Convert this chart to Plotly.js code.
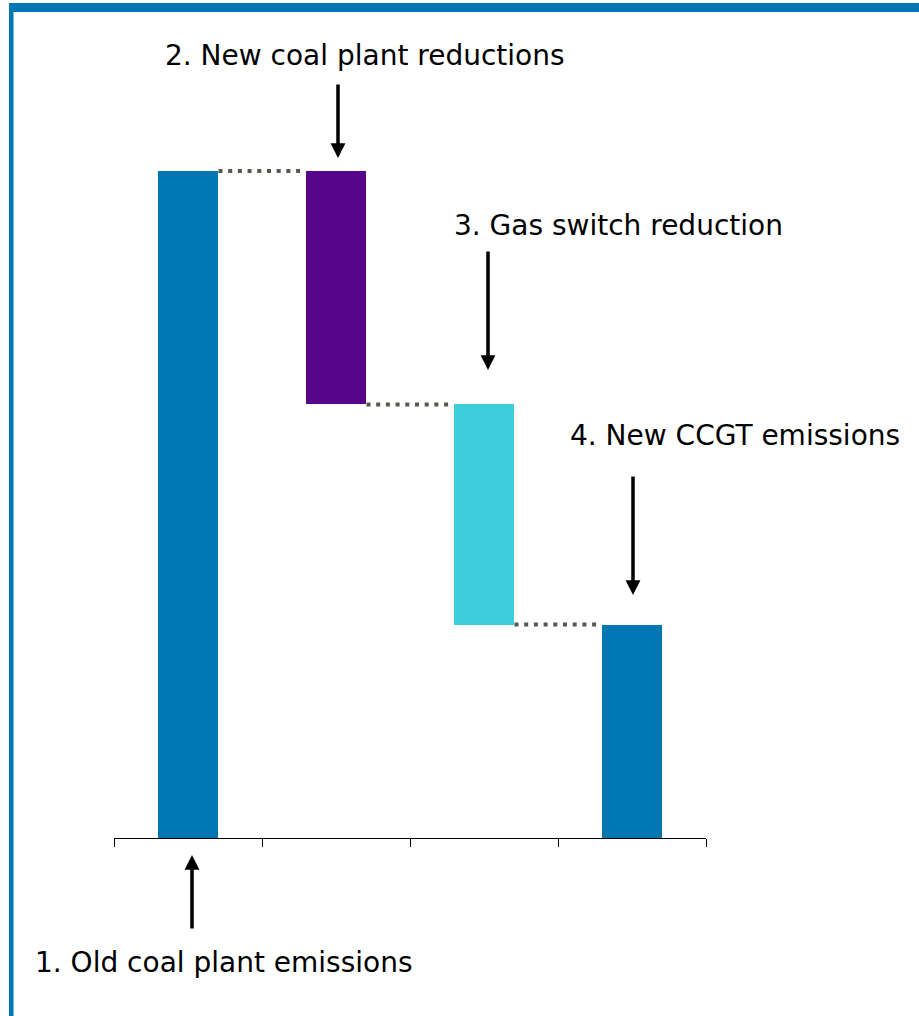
<!DOCTYPE html>
<html>
<head>
<meta charset="utf-8">
<script src="https://cdn.plot.ly/plotly-3.0.1.min.js"></script>
<style>
  html, body { margin: 0; padding: 0; background: #ffffff; }
  #chart { width: 919px; height: 1016px; }
</style>
</head>
<body>
<div id="chart"></div>
<script>
// ---- Data ----
const categories = ["Old coal plant", "New coal plant", "Gas switch", "New CCGT"];
const labels = [
  "1. Old coal plant emissions",
  "2. New coal plant reductions",
  "3. Gas switch reduction",
  "4. New CCGT emissions"
];
// step sizes (first and last are totals, middle are reductions)
const values = [100, 35, 33, 32];
const kinds = ["total", "reduction", "reduction", "total"];
const barColors = ["#0076B2", "#57068A", "#3CCEDB", "#0076B2"];

// ---- derived bar bases / levels ----
const bases = [];
const levels = []; // running level after each bar
let running = 0;
values.forEach((v, i) => {
  if (kinds[i] === "total") { bases.push(0); running = v; }
  else { running -= v; bases.push(running); }
  levels.push(running);
});

// ---- geometry helpers (layout only) ----
const W = 919, H = 1016;
const M = { l: 114, r: 213, t: 104, b: 178 };
const plotW = W - M.l - M.r, plotH = H - M.t - M.b;
const pxX = px => (px - M.l) / plotW;
const pxY = py => (H - M.b - py) / plotH;
const barWidth = 0.412;
const yMax = 110.04;

const trace = {
  type: "bar",
  x: categories,
  y: values,
  base: bases,
  width: barWidth,
  marker: { color: barColors, line: { width: 0 } },
  hoverinfo: "skip",
  showlegend: false
};

const shapes = [];
// dotted connectors between consecutive bars
for (let i = 0; i < categories.length - 1; i++) {
  shapes.push({
    type: "line", xref: "x", yref: "y",
    x0: i + barWidth / 2, x1: i + 1 - barWidth / 2,
    y0: levels[i], y1: levels[i],
    line: { color: "#5A5650", width: 4, dash: "4px,5.7px" }
  });
}
// frame (top band + left band)
shapes.push({ type: "rect", xref: "paper", yref: "paper", x0: pxX(9), x1: pxX(W + 5), y0: pxY(12), y1: pxY(3), fillcolor: "#0077B3", line: { width: 0 }, layer: "above" });
shapes.push({ type: "rect", xref: "paper", yref: "paper", x0: pxX(9), x1: pxX(13.5), y0: pxY(H + 5), y1: pxY(3), fillcolor: "#0077B3", line: { width: 0 }, layer: "above" });

const font = { family: "DejaVu Sans, Liberation Sans, Arial, sans-serif", size: 28, color: "#000000" };

// label text positions (px centers) and arrows (tip px, tail px)
const textPos = [[224, 963], [365, 55], [618, 225], [735, 435]];
const arrows = [
  { x: 192, tip: 855, tail: 930 },
  { x: 338, tip: 158, tail: 83 },
  { x: 488, tip: 370, tail: 250 },
  { x: 633, tip: 595, tail: 475 }
];

const annotations = [];
labels.forEach((t, i) => {
  annotations.push({
    text: t, xref: "paper", yref: "paper",
    x: pxX(textPos[i][0]), y: pxY(textPos[i][1]),
    xanchor: "center", yanchor: "middle",
    showarrow: false, font: font
  });
  const a = arrows[i];
  annotations.push({
    text: "", xref: "paper", yref: "paper",
    x: pxX(a.x), y: pxY(a.tip),
    ax: 0, ay: a.tail - a.tip,
    showarrow: true, arrowhead: 2, arrowsize: 0.85, arrowwidth: 3.5,
    arrowcolor: "#000000", standoff: 0
  });
});

const layout = {
  width: W, height: H,
  margin: M,
  paper_bgcolor: "#ffffff", plot_bgcolor: "#ffffff",
  showlegend: false,
  bargap: 0,
  xaxis: {
    type: "category",
    range: [-0.5, categories.length - 0.5],
    showline: true, linecolor: "#000000", linewidth: 1,
    ticks: "outside", tickson: "boundaries", ticklen: 8, tickcolor: "#000000", tickwidth: 1,
    showticklabels: false, showgrid: false, zeroline: false, fixedrange: true
  },
  yaxis: {
    range: [0, yMax],
    visible: false, showgrid: false, zeroline: false, fixedrange: true
  },
  shapes: shapes,
  annotations: annotations
};

Plotly.newPlot("chart", [trace], layout, { displayModeBar: false, staticPlot: true });
</script>
</body>
</html>
